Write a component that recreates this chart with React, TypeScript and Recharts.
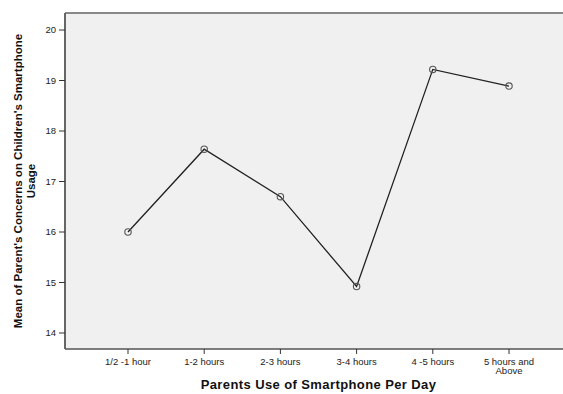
import React from "react";
import { LineChart, Line, XAxis, YAxis, CartesianGrid, ReferenceLine, Label } from "recharts";

// Daily smartphone use by parents (categories) and mean concern score per group
const usageGroups: string[] = [
  "1/2 -1 hour",
  "1-2 hours",
  "2-3 hours",
  "3-4 hours",
  "4 -5 hours",
  "5 hours and\nAbove",
];
const meanConcern: number[] = [16.0, 17.64, 16.7, 14.92, 19.22, 18.89];
const yTicks: number[] = [14, 15, 16, 17, 18, 19, 20];
const yDomain: [number, number] = [13.683, 20.337];

const data = usageGroups.map((group, i) => ({ group, mean: meanConcern[i] }));

const FONT = "'Liberation Sans', Arial, sans-serif";

const CategoryTick = (props: any) => {
  const { x, y, payload } = props;
  const lines = String(payload.value).split("\n");
  return (
    <text
      x={x}
      y={y + 8.5}
      textAnchor="middle"
      fontFamily={FONT}
      fontSize={9.5}
      fill="#222"
    >
      {lines.map((ln: string, i: number) => (
        <tspan key={i} x={x} dy={i === 0 ? 0 : 9.5}>
          {ln}
        </tspan>
      ))}
    </text>
  );
};

const ValueTitle = (props: any) => {
  const vb = props.viewBox || { x: 0, y: 0, width: 0, height: 0 };
  const cy = vb.y + vb.height / 2;
  const x1 = vb.x + 13;
  const x2 = vb.x + 26;
  return (
    <g fontFamily={FONT} fontSize={11.5} fontWeight="bold" fill="#111">
      <text x={x1} y={cy} textAnchor="middle" dominantBaseline="central" transform={`rotate(-90, ${x1}, ${cy})`}>
        Mean of Parent's Concerns on Children's Smartphone
      </text>
      <text x={x2} y={cy} textAnchor="middle" dominantBaseline="central" transform={`rotate(-90, ${x2}, ${cy})`}>
        Usage
      </text>
    </g>
  );
};

const Marker = (props: any) => {
  const { cx, cy, index } = props;
  if (cx == null || cy == null) return null;
  return <circle key={index} cx={cx} cy={cy} r={3.2} fill="none" stroke="#555" strokeWidth={1.1} />;
};

export default function App() {
  return (
    <div
      style={{
        position: "fixed",
        left: 0,
        top: 0,
        width: 563,
        height: 394,
        overflow: "hidden",
        background: "#fff",
      }}
    >
      <LineChart
        width={580}
        height={394}
        data={data}
        margin={{ top: 13, right: 8, bottom: 15, left: 5 }}
      >
        <CartesianGrid fill="#f0f0f0" stroke="none" horizontal={false} vertical={false} />
        <XAxis
          dataKey="group"
          type="category"
          padding={{ left: 63, right: 63 }}
          height={30}
          axisLine={{ stroke: "#555", strokeWidth: 1.6 }}
          tickLine={{ stroke: "#333", strokeWidth: 1 }}
          tickSize={5}
          interval={0}
          tick={<CategoryTick />}
        >
          <Label
            value="Parents Use of Smartphone Per Day"
            position="bottom"
            offset={1}
            style={{ fontFamily: FONT, fontSize: 13, fontWeight: "bold", fill: "#111", letterSpacing: 0.4 }}
          />
        </XAxis>
        <YAxis
          type="number"
          domain={yDomain}
          ticks={yTicks}
          allowDataOverflow
          width={60}
          axisLine={{ stroke: "#666", strokeWidth: 2 }}
          tickLine={{ stroke: "#333", strokeWidth: 1 }}
          tickSize={6}
          tickMargin={3}
          tick={{ fontFamily: FONT, fontSize: 9.5, fill: "#222" }}
          label={<ValueTitle />}
        />
        <ReferenceLine y={yDomain[1]} stroke="#888" strokeWidth={2} ifOverflow="extendDomain" />
        <Line
          type="linear"
          dataKey="mean"
          stroke="#222"
          strokeWidth={1.3}
          dot={<Marker />}
          activeDot={false}
          isAnimationActive={false}
        />
      </LineChart>
    </div>
  );
}
